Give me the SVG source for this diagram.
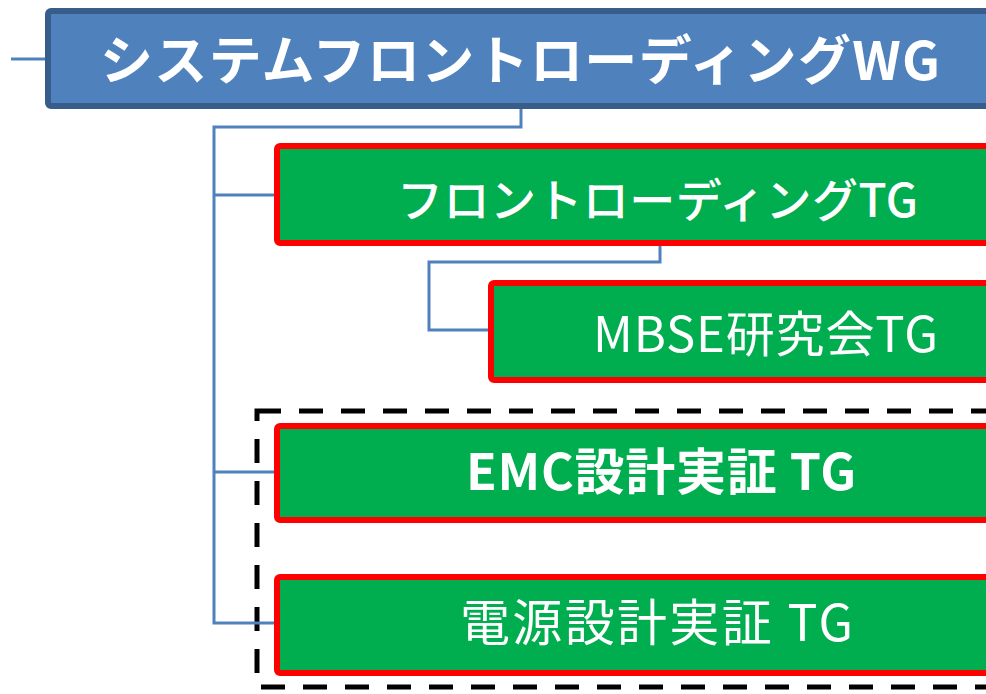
<svg xmlns="http://www.w3.org/2000/svg" width="986" height="694" viewBox="0 0 986 694">
  <style>
    .wg { fill: #4F81BD; stroke: #385D8A; stroke-width: 6; }
    .tg { fill: #00AD4F; stroke: #FF0000; stroke-width: 6; }
    .conn { fill: none; stroke: #4F81BD; stroke-width: 3; }
    .dash { fill: none; stroke: #000000; stroke-width: 5; stroke-dasharray: 24 18; }
    text { fill: #FFFFFF; font-family: "Noto Sans CJK JP", "Noto Sans", sans-serif; }
    .b { font-weight: 700; }
    .m { font-weight: 500; }
    .n { font-weight: 400; }
  </style>
  <rect width="986" height="694" fill="#FFFFFF"/>
  <g id="group-box">
    <rect class="dash" x="257" y="411" width="800" height="276"/>
  </g>
  <g id="connectors">
    <line class="conn" x1="11" y1="59" x2="45" y2="59"/>
    <path class="conn" d="M521,109 V127 H214 V623 H274"/>
    <path class="conn" d="M214,195 H274"/>
    <path class="conn" d="M214,472 H274"/>
    <path class="conn" d="M660,246 V262 H429 V330 H488"/>
  </g>
  <g id="node-wg">
    <rect class="wg" x="48" y="11" width="1000" height="95" rx="3"/>
    <text class="b" x="100" y="80" font-size="53" textLength="840">システムフロントローディングWG</text>
  </g>
  <g id="node-frontloading">
    <rect class="tg" x="277" y="146" width="1000" height="97" rx="3"/>
    <text class="m" x="397" y="217" font-size="46" textLength="521">フロントローディングTG</text>
  </g>
  <g id="node-mbse">
    <rect class="tg" x="491" y="283" width="1000" height="97" rx="3"/>
    <text class="n" x="593" y="352" font-size="49" textLength="345">MBSE研究会TG</text>
  </g>
  <g id="node-emc">
    <rect class="tg" x="277" y="426" width="1000" height="94" rx="3"/>
    <text class="b" x="466" y="490" font-size="50" textLength="390">EMC設計実証 TG</text>
  </g>
  <g id="node-power">
    <rect class="tg" x="277" y="577" width="1000" height="96" rx="3"/>
    <text class="n" x="460" y="641" font-size="50" textLength="393">電源設計実証 TG</text>
  </g>
</svg>
